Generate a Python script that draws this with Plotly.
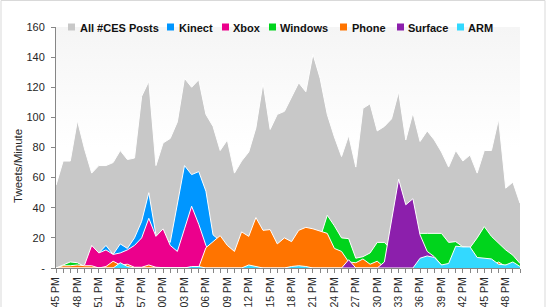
import plotly.graph_objects as go

minutes = ["45 PM", "46 PM", "47 PM", "48 PM", "49 PM", "50 PM", "51 PM", "52 PM",
           "53 PM", "54 PM", "55 PM", "56 PM", "57 PM", "58 PM", "59 PM", "00 PM",
           "01 PM", "02 PM", "03 PM", "04 PM", "05 PM", "06 PM", "07 PM", "08 PM",
           "09 PM", "10 PM", "11 PM", "12 PM", "13 PM", "14 PM", "15 PM", "16 PM",
           "17 PM", "18 PM", "19 PM", "20 PM", "21 PM", "22 PM", "23 PM", "24 PM",
           "25 PM", "26 PM", "27 PM", "28 PM", "29 PM", "30 PM", "31 PM", "32 PM",
           "33 PM", "34 PM", "35 PM", "36 PM", "37 PM", "38 PM", "39 PM", "40 PM",
           "41 PM", "42 PM", "43 PM", "44 PM", "45 PM", "46 PM", "47 PM", "48 PM",
           "49 PM", "50 PM"]

all_posts = [55, 71, 71, 98, 79, 63, 68, 68, 70, 78, 72, 73, 114, 124, 68, 83,
             86, 97, 126, 120, 125, 102, 94, 78, 85, 63, 71, 77, 93, 123, 92, 102,
             104, 113, 123, 117, 142, 126, 102, 87, 74, 88, 67, 106, 109, 91, 94, 99,
             117, 85, 103, 84, 91, 85, 77, 67, 78, 71, 75, 63, 78, 78, 99, 53,
             57, 43]
kinect = [0, 0, 0, 0, 0, 0, 10, 15, 9, 16, 13, 20, 31, 50, 22, 20,
          17, 42, 68, 62, 64, 51, 22, 18, 14, 8, 0, 0, 0, 0, 0, 0,
          0, 0, 0, 0, 0, 0, 0, 0, 0, 0, 0, 0, 0, 0, 0, 0,
          0, 0, 0, 0, 0, 0, 0, 0, 0, 0, 0, 0, 0, 0, 0, 0,
          0, 0]
xbox = [0, 0, 0, 0, 2, 15, 10, 12, 9, 10, 12, 15, 20, 33, 21, 26,
        15, 11, 26, 41, 29, 15, 6, 2, 0, 0, 0, 0, 0, 0, 0, 0,
        0, 0, 0, 0, 0, 0, 0, 0, 0, 0, 0, 0, 0, 0, 0, 0,
        0, 0, 0, 0, 0, 0, 0, 0, 0, 0, 0, 0, 0, 0, 0, 0,
        0, 0]
windows = [0, 2, 4, 3.5, 1, 0, 0, 0, 0, 0, 0, 0, 0, 0, 0, 0,
           0, 0, 0, 0, 0, 0, 0, 0, 0, 0, 0, 0, 0, 0, 0, 0,
           0, 0, 0, 0, 0, 20, 35, 28, 20, 19.5, 6.5, 7.5, 10, 17, 17, 12,
           15, 18, 22, 23, 23, 23, 23, 17, 17.5, 14, 13.5, 20, 27.5, 21, 16.5, 12,
           8.5, 3]
phone = [0, 1.5, 1.5, 2, 1.5, 1.5, 0, 1, 4.5, 2, 2.5, 0.5, 0.5, 2, 0.5, 0,
         0, 0, 0, 0, 0.5, 13.5, 17.5, 21.5, 15, 11, 24, 21, 33.5, 25, 25.5, 16,
         20, 17.5, 25, 27, 26, 24.5, 23, 13, 11, 4, 3.5, 6, 2.5, 4.5, 0.5, 0,
         0, 0, 0, 0, 0, 0, 0, 0, 0, 0, 0, 0, 0, 1, 4, 1,
         0, 0]
surface = [0, 0, 0, 0, 0, 0, 0, 0, 0, 0, 0, 0, 0, 0, 0, 0,
           0, 0, 0, 0, 0, 0, 0, 0, 0, 0, 0, 0, 0, 0, 0, 0,
           0, 0, 0, 0, 0, 0, 0, 0, 0, 5.5, 0, 0, 0, 0, 4, 31,
           59, 42, 46, 22, 11, 7.5, 2, 0, 0, 0, 0, 0, 0, 0, 0, 2,
           0, 0]
arm = [0, 0, 0, 0, 0, 0, 0, 0, 0, 3.5, 1, 0, 0, 0, 0, 0,
       0, 0, 0, 1, 1, 0, 0, 0, 0, 0, 0, 2, 1, 0, 0, 0,
       0, 1, 1.5, 1, 0, 0, 0, 0, 0, 0, 0, 0, 0, 0, 0, 0,
       0, 0, 0, 6.5, 8, 7, 2, 3, 14.5, 14, 14, 7, 6.5, 6, 2.5, 2,
       4, 1]

series_names = ["All #CES Posts", "Kinect", "Xbox", "Windows", "Phone", "Surface", "ARM"]
series_values = [all_posts, kinect, xbox, windows, phone, surface, arm]
series_colors = ["#c8c8c8", "#0096ff", "#ec008c", "#00d41c", "#ff7400", "#8c1fac", "#33d9ff"]

y_tickvals = [0, 20, 40, 60, 80, 100, 120, 140, 160]
y_ticktext = ["-", "20", "40", "60", "80", "100", "120", "140", "160"]

xs = list(range(len(minutes)))
x_ticktext = [m if i % 3 == 0 else "" for i, m in enumerate(minutes)]

W, H = 546, 307
ML, MR, MT, MB = 56, 26, 27, 39
PW, PH = W - ML - MR, H - MT - MB

def px(x):
    return (x - ML) / PW

def py(y):
    return (H - MB - y) / PH

fig = go.Figure()

# subtle plot-area gradient background (light grey at top fading to white)
fig.add_trace(go.Scatter(x=[xs[0], xs[-1]], y=[160, 160], fill="tozeroy", mode="none",
                         fillgradient=dict(type="vertical",
                                           colorscale=[[0, "#ffffff"], [0.5, "#ffffff"], [1, "#f5f5f5"]]),
                         hoverinfo="skip", showlegend=False))

for name, vals, col in zip(series_names, series_values, series_colors):
    fig.add_trace(go.Scatter(x=xs, y=vals, name=name, mode="lines", fill="tozeroy",
                             fillcolor=col, line=dict(color="white", width=1),
                             hoverinfo="skip", showlegend=False))

font_family = "Liberation Sans, Arial, sans-serif"

fig.update_layout(
    width=W, height=H,
    margin=dict(l=ML, r=MR, t=MT, b=MB, autoexpand=False),
    paper_bgcolor="white", plot_bgcolor="white",
    font=dict(family=font_family, size=11, color="#262626"),
    showlegend=False,
)
fig.update_xaxes(range=[xs[0], xs[-1]], tickmode="array", tickvals=xs, ticktext=x_ticktext,
                 tickangle=-90, ticks="outside", ticklen=4, tickcolor="#868686",
                 showline=True, linecolor="#868686", linewidth=1, showgrid=False,
                 zeroline=False, automargin=False, tickfont=dict(size=10.5, color="#262626"))
fig.update_yaxes(range=[0, 160], tickmode="array", tickvals=y_tickvals, ticktext=y_ticktext,
                 ticks="outside", ticklen=4, tickcolor="#868686",
                 showline=True, linecolor="#868686", linewidth=1, showgrid=False,
                 zeroline=False, automargin=False, ticklabelstandoff=4,
                 tickfont=dict(size=11, color="#262626"))

annotations = [dict(text="Tweets/Minute", x=px(18), y=py(166), xref="paper", yref="paper",
                    textangle=-90, showarrow=False, xanchor="center", yanchor="middle",
                    font=dict(size=11.5, color="#262626"))]
shapes = [dict(type="rect", xref="paper", yref="paper", x0=px(1), x1=px(545), y0=py(320), y1=py(0.5),
               line=dict(color="#d9d9d9", width=1), fillcolor="rgba(0,0,0,0)", layer="below")]

legend_sq = [68, 167, 222, 269, 340, 397, 457]
legend_tx = [78, 177, 231, 278, 350, 406, 466]
for name, col, sx, tx in zip(series_names, series_colors, legend_sq, legend_tx):
    shapes.append(dict(type="rect", xref="paper", yref="paper", x0=px(sx), x1=px(sx + 7),
                       y0=py(30.5), y1=py(23.5), line=dict(width=0), fillcolor=col))
    annotations.append(dict(text="<b>" + name + "</b>", x=px(tx), y=py(27.5), xref="paper", yref="paper",
                            showarrow=False, xanchor="left", yanchor="middle",
                            font=dict(size=11, color="#111111")))

fig.update_layout(annotations=annotations, shapes=shapes)
fig.write_html("out.html")
